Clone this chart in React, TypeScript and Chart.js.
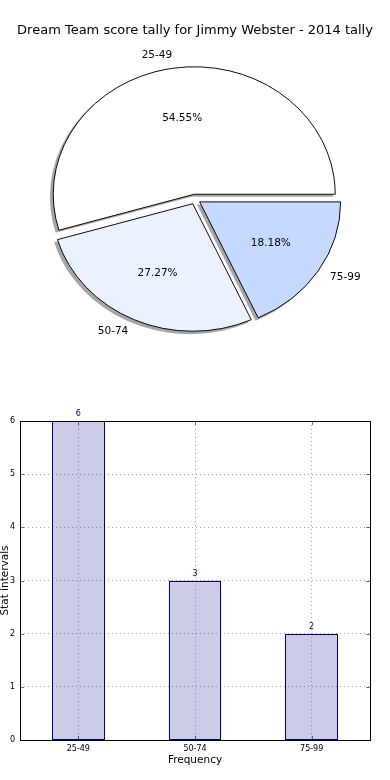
import React, { useEffect, useRef } from "react";
import { Chart, registerables } from "chart.js";

Chart.register(...registerables);

// ---- data ----
const TITLE = "Dream Team score tally for Jimmy Webster - 2014 tally";
const categories = ["25-49", "50-74", "75-99"];
const counts = [6, 3, 2];
const yTicks = [0, 1, 2, 3, 4, 5, 6];
const pieColors = ["#ffffff", "#ebf2ff", "#c6daff"];
const X_TITLE = "Frequency";
const Y_TITLE = "Stat intervals";

// ---- style ----
const FONT = "'DejaVu Sans', sans-serif";
const ELLIPSE_Y = 127.5 / 141;
const EXPLODE = 5.5;
const NAVY = "#000080";

// pie drawn counter-clockwise from 3 o'clock (like matplotlib) -> reverse order for clockwise Chart.js
const pieOrder = [2, 1, 0];

const pieFx = {
  id: "pieFx",
  afterDatasetsUpdate(chart: any) {
    const meta = chart.getDatasetMeta(0);
    meta.data.forEach((arc: any) => {
      const mid = (arc.startAngle + arc.endAngle) / 2;
      arc.x += Math.cos(mid) * EXPLODE;
      arc.y += Math.sin(mid) * EXPLODE;
    });
  },
  beforeDatasetsDraw(chart: any) {
    const { ctx, chartArea } = chart;
    const cx = (chartArea.left + chartArea.right) / 2;
    const cy = (chartArea.top + chartArea.bottom) / 2;
    const meta = chart.getDatasetMeta(0);
    // shadows, beneath every wedge
    ctx.save();
    ctx.translate(-2.8, 2.5);
    ctx.translate(cx, cy);
    ctx.scale(1, ELLIPSE_Y);
    ctx.translate(-cx, -cy);
    ctx.fillStyle = "rgba(77,77,77,0.5)";
    meta.data.forEach((arc: any) => {
      ctx.beginPath();
      ctx.moveTo(arc.x, arc.y);
      ctx.arc(arc.x, arc.y, arc.outerRadius + 0.5, arc.startAngle, arc.endAngle);
      ctx.closePath();
      ctx.fill();
    });
    ctx.restore();
    // elliptical wedges
    ctx.save();
    ctx.translate(cx, cy);
    ctx.scale(1, ELLIPSE_Y);
    ctx.translate(-cx, -cy);
  },
  afterDatasetsDraw(chart: any) {
    const { ctx, chartArea } = chart;
    ctx.restore();
    const cy = (chartArea.top + chartArea.bottom) / 2;
    const meta = chart.getDatasetMeta(0);
    const data = chart.data.datasets[0].data as number[];
    const labels = chart.data.labels as string[];
    const total = data.reduce((a, b) => a + b, 0);
    ctx.save();
    ctx.fillStyle = "#000";
    ctx.font = `10.5px ${FONT}`;
    ctx.textBaseline = "middle";
    meta.data.forEach((arc: any, i: number) => {
      const mid = (arc.startAngle + arc.endAngle) / 2;
      const r = arc.outerRadius;
      const px = (f: number) => arc.x + Math.cos(mid) * r * f;
      const py = (f: number) => cy + (arc.y + Math.sin(mid) * r * f - cy) * ELLIPSE_Y;
      ctx.textAlign = Math.cos(mid) > 0 ? "left" : "right";
      ctx.fillText(labels[i], px(1.1), py(1.1));
      ctx.textAlign = "center";
      ctx.fillText(((data[i] / total) * 100).toFixed(2) + "%", px(0.6), py(0.6));
    });
    ctx.restore();
  },
};

const barFx = {
  id: "barFx",
  afterDraw(chart: any) {
    const { ctx, chartArea } = chart;
    const { left, right, top, bottom } = chartArea;
    ctx.save();
    // inward tick marks
    ctx.strokeStyle = "rgba(0,0,0,0.55)";
    ctx.lineWidth = 1;
    const ys = chart.scales.y;
    ys.ticks.forEach((t: any) => {
      const y = Math.round(ys.getPixelForValue(t.value)) + 0.5;
      ctx.beginPath();
      ctx.moveTo(left, y);
      ctx.lineTo(left + 4, y);
      ctx.moveTo(right, y);
      ctx.lineTo(right - 4, y);
      ctx.stroke();
    });
    const xs = chart.scales.x;
    xs.ticks.forEach((_t: any, i: number) => {
      const x = Math.round(xs.getPixelForTick(i)) + 0.5;
      ctx.beginPath();
      ctx.moveTo(x, bottom);
      ctx.lineTo(x, bottom - 4);
      ctx.moveTo(x, top);
      ctx.lineTo(x, top + 4);
      ctx.stroke();
    });
    // crisp bar edges
    const meta = chart.getDatasetMeta(0);
    ctx.strokeStyle = NAVY;
    ctx.lineWidth = 1;
    meta.data.forEach((bar: any) => {
      const x0 = Math.round(bar.x - bar.width / 2) + 0.5;
      const x1 = Math.round(bar.x + bar.width / 2) - 0.5;
      const y0 = Math.round(bar.y) + 0.5;
      const y1 = Math.round(bar.base) - 0.5;
      ctx.strokeRect(x0, y0, x1 - x0, y1 - y0);
    });
    // frame
    ctx.strokeStyle = "#000";
    ctx.lineWidth = 1;
    ctx.strokeRect(Math.round(left) + 0.5, Math.round(top) + 0.5, Math.round(right - left), Math.round(bottom - top));
    // value labels
    const data = chart.data.datasets[0].data as number[];
    ctx.fillStyle = NAVY;
    ctx.font = `8px ${FONT}`;
    ctx.textAlign = "center";
    ctx.textBaseline = "alphabetic";
    meta.data.forEach((bar: any, i: number) => {
      ctx.fillText(String(data[i]), bar.x, bar.y - 5);
    });
    ctx.restore();
  },
};

export default function App() {
  const pieRef = useRef<HTMLCanvasElement>(null);
  const barRef = useRef<HTMLCanvasElement>(null);

  useEffect(() => {
    const pie = new Chart(pieRef.current!, {
      type: "pie",
      data: {
        labels: pieOrder.map((i) => categories[i]),
        datasets: [
          {
            data: pieOrder.map((i) => counts[i]),
            backgroundColor: pieOrder.map((i) => pieColors[i]),
            borderColor: "#000",
            borderWidth: 1,
          },
        ],
      },
      options: {
        responsive: false,
        animation: false,
        devicePixelRatio: 1,
        events: [],
        rotation: 90,
        radius: 141,
        layout: { padding: { top: 0, bottom: 10.2, left: 0, right: 0 } },
        plugins: {
          legend: { display: false },
          tooltip: { enabled: false },
          title: {
            display: true,
            text: TITLE,
            color: "#000",
            font: { family: FONT, size: 13, weight: "normal", lineHeight: 1.2 },
            padding: { top: 23, bottom: 0 },
          },
        },
      } as any,
      plugins: [pieFx],
    });

    const gridColor = "rgba(0,0,0,0.35)";
    const bar = new Chart(barRef.current!, {
      type: "bar",
      data: {
        labels: categories,
        datasets: [
          {
            data: counts,
            backgroundColor: "rgba(0,0,128,0.2)",
            borderColor: NAVY,
            borderWidth: 0,
            barPercentage: 0.45,
            categoryPercentage: 1,
          },
        ],
      },
      options: {
        responsive: false,
        animation: false,
        devicePixelRatio: 1,
        events: [],
        layout: { padding: { top: 51, right: 20, bottom: 0, left: 0 } },
        plugins: {
          legend: { display: false },
          tooltip: { enabled: false },
          title: { display: false },
        },
        scales: {
          x: {
            grid: { offset: false, color: gridColor, lineWidth: 1, drawTicks: false },
            border: { display: false, dash: [1, 3] },
            ticks: { color: "#000", padding: 4, font: { family: FONT, size: 8 } },
            title: {
              display: true,
              text: X_TITLE,
              color: "#000",
              font: { family: FONT, size: 10.5, lineHeight: 1.2 },
              padding: { top: 0, bottom: 13.7 },
            },
            afterFit: (s: any) => {
              s.height = 40;
            },
          },
          y: {
            min: 0,
            max: 6,
            afterBuildTicks: (s: any) => {
              s.ticks = yTicks.map((v) => ({ value: v }));
            },
            grid: { color: gridColor, lineWidth: 1, drawTicks: false },
            border: { display: false, dash: [1, 3] },
            ticks: { color: "#000", padding: 5, font: { family: FONT, size: 8 } },
            title: {
              display: true,
              text: Y_TITLE,
              color: "#000",
              font: { family: FONT, size: 10.5, lineHeight: 1.2 },
              padding: { top: -1.5, bottom: 0 },
            },
            afterFit: (s: any) => {
              s.width = 20;
            },
          },
        },
      } as any,
      plugins: [barFx],
    });

    return () => {
      pie.destroy();
      bar.destroy();
    };
  }, []);

  return (
    <div style={{ position: "absolute", left: 0, top: 0, width: 390, height: 780, background: "#fff" }}>
      <canvas ref={pieRef} width={390} height={370} style={{ display: "block", width: 390, height: 370 }} />
      <canvas ref={barRef} width={390} height={410} style={{ display: "block", width: 390, height: 410 }} />
    </div>
  );
}
